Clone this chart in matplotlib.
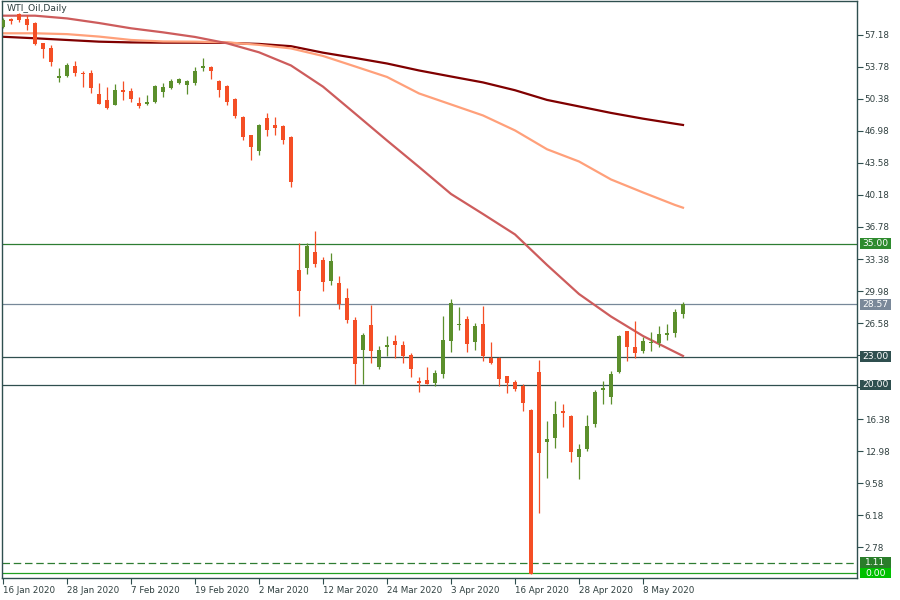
import matplotlib
matplotlib.use("Agg")
import matplotlib.pyplot as plt
import matplotlib.transforms as mtransforms
from matplotlib.patches import Rectangle
import numpy as np
import pandas as pd

# ---------------- data ----------------
dates = [d for d in pd.bdate_range("2020-01-16", "2020-05-15") if d != pd.Timestamp("2020-04-10")]

opens = [58.03, 58.71, 59.38, 58.88, 58.49, 56.30, 55.77, 52.65, 52.83, 53.88,
         53.18, 53.18, 50.90, 50.28, 49.73, 51.34, 51.26, 49.99, 49.86, 50.06,
         51.16, 51.52, 52.11, 51.87, 52.11, 53.71, 53.81, 52.28, 51.76, 50.35,
         48.50, 46.56, 44.89, 48.40, 47.62, 47.46, 46.38, 32.21, 32.46, 34.13,
         33.28, 31.08, 30.83, 29.24, 26.90, 23.75, 26.37, 21.94, 24.07, 24.67,
         24.25, 23.18, 20.42, 20.53, 20.24, 21.20, 24.70, 26.33, 27.01, 24.60,
         26.48, 22.86, 22.83, 20.95, 20.31, 19.89, 17.34, 21.38, 13.97, 14.40,
         17.23, 16.70, 12.38, 13.23, 15.88, 19.50, 18.75, 21.41, 25.73, 24.06,
         23.64, 24.43, 24.49, 25.28, 25.55, 27.57]
highs = [58.99, 58.96, 59.49, 59.31, 58.56, 56.36, 56.09, 53.64, 54.24, 54.42,
         53.36, 53.46, 52.11, 51.63, 51.98, 52.33, 51.52, 50.63, 50.81, 51.87,
         52.11, 52.48, 52.61, 52.35, 53.81, 54.77, 53.89, 52.40, 51.87, 50.46,
         48.58, 46.56, 47.70, 48.84, 48.47, 47.57, 46.45, 35.05, 35.05, 36.36,
         33.56, 34.02, 31.58, 30.30, 27.22, 25.49, 28.50, 24.14, 25.20, 25.31,
         24.67, 23.40, 20.85, 21.94, 21.59, 27.36, 29.13, 28.32, 27.36, 26.55,
         28.42, 24.60, 23.00, 20.95, 20.53, 20.07, 17.45, 22.65, 16.17, 18.30,
         17.98, 16.81, 13.73, 16.81, 19.46, 20.42, 21.48, 25.31, 25.73, 26.80,
         25.13, 25.63, 26.26, 26.51, 28.04, 28.81]
lows = [57.93, 58.35, 58.60, 57.71, 56.11, 54.77, 53.92, 52.22, 52.69, 52.83,
        51.63, 51.05, 49.80, 49.29, 49.70, 50.28, 50.10, 49.39, 49.74, 49.96,
        50.56, 51.41, 51.98, 50.91, 51.87, 53.39, 52.50, 50.54, 49.74, 48.33,
        46.03, 43.90, 44.43, 46.45, 46.56, 45.60, 41.06, 27.33, 31.79, 32.57,
        30.02, 30.62, 28.07, 26.58, 20.10, 20.10, 22.37, 21.70, 23.08, 22.90,
        22.37, 20.88, 19.28, 20.05, 19.92, 20.77, 23.53, 25.84, 23.53, 23.71,
        22.58, 22.23, 19.92, 19.18, 19.36, 17.27, -0.10, 6.43, 10.15, 13.33,
        15.57, 11.85, 10.04, 13.02, 15.57, 18.01, 18.01, 21.24, 22.58, 22.90,
        23.36, 23.64, 24.06, 24.78, 25.13, 27.15]
closes = [58.78, 58.68, 58.78, 58.25, 56.22, 55.70, 54.35, 52.83, 53.99, 53.11,
          53.01, 51.58, 49.84, 49.46, 51.34, 51.16, 50.38, 49.67, 49.93, 51.76,
          51.63, 52.30, 52.52, 52.30, 53.39, 53.89, 53.39, 51.37, 50.10, 48.61,
          46.38, 45.31, 47.62, 47.09, 47.27, 46.03, 41.60, 30.02, 34.76, 32.88,
          30.97, 33.17, 28.63, 26.93, 22.26, 25.28, 23.64, 23.71, 24.18, 24.25,
          23.11, 21.73, 20.24, 20.10, 21.27, 24.78, 28.72, 26.42, 24.32, 26.26,
          23.08, 22.37, 20.67, 20.18, 19.57, 18.12, -0.05, 12.80, 14.26, 16.91,
          17.02, 12.91, 13.20, 15.64, 19.25, 19.68, 21.16, 25.20, 24.06, 23.43,
          24.70, 24.60, 25.45, 25.55, 27.75, 28.57]

# moving averages read at every 4th bar (and the last bar)
ma_idx = [0, 4, 8, 12, 16, 20, 24, 28, 32, 36, 40, 44, 48, 52, 56, 60, 64, 68,
          72, 76, 80, 84, 85]
ma50 = [59.23, 59.23, 58.94, 58.45, 57.89, 57.46, 56.97, 56.30, 55.34, 53.94,
        51.69, 48.84, 45.97, 43.16, 40.29, 38.16, 35.99, 32.75, 29.66, 27.27,
        25.20, 23.50, 23.08]
ma100 = [57.36, 57.36, 57.27, 57.01, 56.65, 56.49, 56.47, 56.40, 56.13, 55.75,
         54.95, 53.84, 52.72, 50.97, 49.80, 48.63, 47.04, 45.04, 43.74, 41.83,
         40.45, 39.12, 38.83]
ma200 = [56.99, 56.83, 56.65, 56.47, 56.39, 56.36, 56.36, 56.34, 56.23, 55.99,
         55.30, 54.74, 54.15, 53.41, 52.77, 52.14, 51.31, 50.28, 49.59, 48.90,
         48.29, 47.75, 47.62]

# horizontal levels
level_values = [35.00, 28.57, 23.00, 20.00, 1.11, 0.00]
level_labels = ["35.00", "28.57", "23.00", "20.00", "1.11", "0.00"]

y_ticks = [2.78, 6.18, 9.58, 12.98, 16.38, 19.78, 23.18, 26.58, 29.98, 33.38,
           36.78, 40.18, 43.58, 46.98, 50.38, 53.78, 57.18]
# tick labels hidden behind the 20.00 / 23.00 level boxes in the reference
hidden_tick_labels = [19.78, 23.18]
x_tick_dates = ["2020-01-16", "2020-01-28", "2020-02-07", "2020-02-19", "2020-03-02",
                "2020-03-12", "2020-03-24", "2020-04-03", "2020-04-16", "2020-04-28",
                "2020-05-08"]
x_tick_labels = ["16 Jan 2020", "28 Jan 2020", "7 Feb 2020", "19 Feb 2020", "2 Mar 2020",
                 "12 Mar 2020", "24 Mar 2020", "3 Apr 2020", "16 Apr 2020", "28 Apr 2020",
                 "8 May 2020"]

# ---------------- style ----------------
UP = "#5B8F2C"
DOWN = "#F44E25"
FRAME = "#2F4F4F"
TXT = "#2F3F3F"
FS = 6.3

plt.rcParams["font.family"] = ["DejaVu Sans"]

fig = plt.figure(figsize=(9, 6), dpi=100)
ax = fig.add_axes([2 / 900, 22 / 600, 855 / 900, 577 / 600])

idx = np.arange(len(opens))
o = np.array(opens); c = np.array(closes); h = np.array(highs); l = np.array(lows)
cols = [UP if cc >= oo else DOWN for oo, cc in zip(o, c)]
body_h = np.maximum(np.abs(c - o), 0.15)
body_b = np.minimum(o, c)

ax.vlines(idx, l, h, colors=cols, linewidth=0.9, zorder=3)
ax.bar(idx, body_h, bottom=body_b, width=0.62, color=cols, linewidth=0, zorder=3)

ax.plot(ma_idx, ma200, color="#800000", linewidth=1.6, zorder=2)
ax.plot(ma_idx, ma100, color="#FFA07A", linewidth=1.6, zorder=2)
ax.plot(ma_idx, ma50, color="#CD5C5C", linewidth=1.6, zorder=2)

# levels
line_styles = [
    dict(color="#2E7D32", lw=0.9, ls="-"),
    dict(color="#778899", lw=0.9, ls="-"),
    dict(color=FRAME, lw=0.9, ls="-"),
    dict(color=FRAME, lw=0.9, ls="-"),
    dict(color="#2E7D32", lw=0.9, ls=(0, (6, 3))),
    dict(color="#22A022", lw=0.9, ls="-"),
]
label_bg = ["#2E8B2E", "#7A8899", FRAME, FRAME, "#2A7D2A", "#00C000"]
trans = mtransforms.blended_transform_factory(ax.transAxes, ax.transData)
box_x0 = 1.0035
box_w = 0.036
box_h = 1.12
for val, lab, st, bg in zip(level_values, level_labels, line_styles, label_bg):
    ax.axhline(val, color=st["color"], linewidth=st["lw"], linestyle=st["ls"], zorder=1)
    ax.add_patch(Rectangle((box_x0, val - box_h / 2), box_w, box_h, transform=trans,
                           facecolor=bg, edgecolor="none", clip_on=False, zorder=9))
    ax.text(box_x0 + box_w / 2, val, lab, transform=trans, ha="center", va="center",
            fontsize=FS + 0.3, color="white", clip_on=False, zorder=10)

ax.set_xlim(-0.125, 106.75)
ax.set_ylim(-0.51, 60.79)

ax.yaxis.tick_right()
ax.set_yticks(y_ticks)
ax.set_yticklabels(["" if v in hidden_tick_labels else f"{v:.2f}" for v in y_ticks])
ax.tick_params(axis="y", direction="out", length=4, width=0.8, color=FRAME,
               labelsize=FS, labelcolor=TXT, pad=1.5)

date_pos = {d.strftime("%Y-%m-%d"): i for i, d in enumerate(dates)}
ax.set_xticks([date_pos[d] for d in x_tick_dates])
ax.set_xticklabels(x_tick_labels)
for t in ax.get_xticklabels():
    t.set_ha("left")
ax.tick_params(axis="x", direction="out", length=4, width=0.8, color=FRAME,
               labelsize=FS, labelcolor=TXT, pad=1.5)

for sp in ax.spines.values():
    sp.set_color(FRAME)
    sp.set_linewidth(1.0)

ax.text(0.005, 0.995, "WTI_Oil,Daily", transform=ax.transAxes, ha="left", va="top",
        fontsize=FS + 0.4, color=TXT, zorder=10)

fig.savefig("out.png", dpi=100)
